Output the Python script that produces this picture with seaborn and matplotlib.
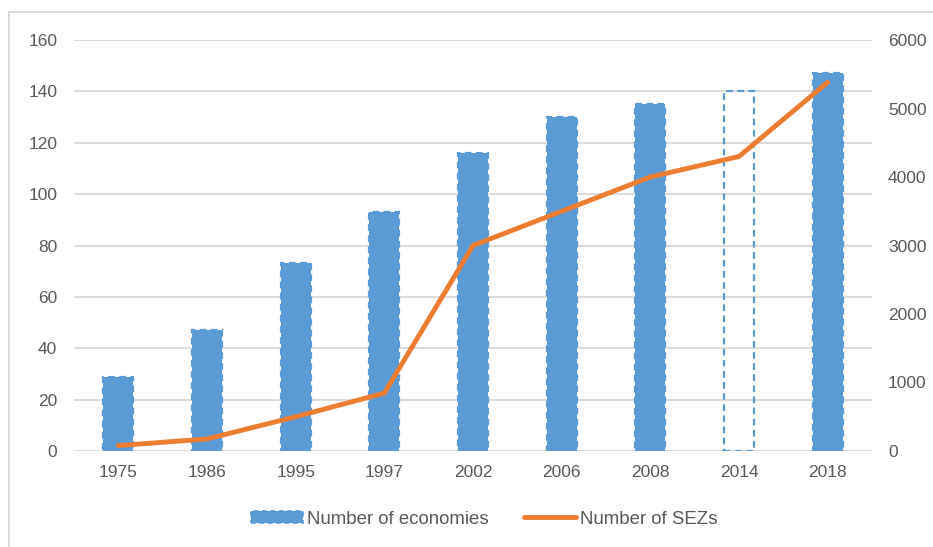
import matplotlib
matplotlib.use("Agg")
import matplotlib.pyplot as plt
import seaborn as sns
import pandas as pd
from matplotlib.patches import Rectangle, Patch
from matplotlib.lines import Line2D

years = ["1975", "1986", "1995", "1997", "2002", "2006", "2008", "2014", "2018"]
economies = [29, 47, 73, 93, 116, 130, 135, 140, 147]
sezs = [79, 176, 500, 845, 3000, 3500, 4000, 4300, 5383]
hollow_year = "2014"

BLUE = "#5B9BD5"
ORANGE = "#ED7D31"
GRID = "#D9D9D9"
TXT = "#595959"

sns.set_theme(style="white")
plt.rcParams["font.family"] = ["Liberation Sans", "DejaVu Sans"]

df = pd.DataFrame({"year": years, "economies": economies, "sezs": sezs})

W, H = 933, 547
fig = plt.figure(figsize=(W / 100, H / 100), dpi=100)
ax = fig.add_axes([74 / W, 1 - 451 / H, (872 - 74) / W, (451 - 40) / H])

sns.barplot(data=df, x="year", y="economies", ax=ax, color=BLUE,
            width=0.34, saturation=1, zorder=2)
for patch, yr in zip(ax.patches, years):
    patch.set_linestyle((0, (3, 2)))
    patch.set_linewidth(1.6)
    patch.set_edgecolor(BLUE)
    if yr == hollow_year:
        patch.set_facecolor("none")

ax.set_ylim(0, 160)
ax.set_yticks(range(0, 161, 20))
ax.set_xlim(-0.5, len(years) - 0.5)
ax.yaxis.grid(True, color=GRID, linewidth=1.3, zorder=0)
ax.set_axisbelow(True)
for s in ax.spines.values():
    s.set_visible(False)
ax.set_xlabel("")
ax.set_ylabel("")
ax.tick_params(axis="both", length=0, labelsize=12.5, labelcolor=TXT)
ax.tick_params(axis="y", pad=12)
ax.tick_params(axis="x", pad=10)

ax2 = ax.twinx()
sns.lineplot(x=list(range(len(years))), y=sezs, ax=ax2, color=ORANGE,
             linewidth=3.5, zorder=3)
ax2.set_ylim(0, 6000)
ax2.set_yticks(range(0, 6001, 1000))
for s in ax2.spines.values():
    s.set_visible(False)
ax2.tick_params(axis="y", length=0, labelsize=12.5, labelcolor=TXT, pad=11.5)
ax2.set_ylabel("")

handles = [
    Patch(facecolor=BLUE, edgecolor=BLUE, linestyle=(0, (3, 2)), linewidth=1.2),
    Line2D([0], [0], color=ORANGE, linewidth=3.5, solid_capstyle="round"),
]
fig.legend(handles, ["Number of economies", "Number of SEZs"],
           loc="center", bbox_to_anchor=(484 / W, 1 - 519 / H), ncol=2,
           frameon=False, fontsize=13.4, labelcolor=TXT,
           handlelength=2.8, handleheight=0.55, handletextpad=0.2,
           columnspacing=1.9)

fig.patches.append(Rectangle((9 / W, -0.02), 1.0, 1 - 12 / H + 0.02,
                             transform=fig.transFigure, fill=False,
                             edgecolor=GRID, linewidth=1.3))

fig.savefig("out.png", dpi=100, facecolor="white")
